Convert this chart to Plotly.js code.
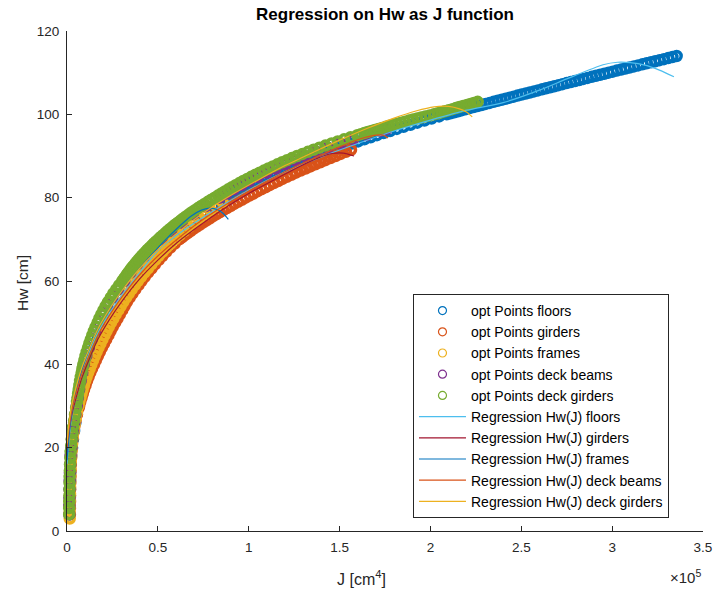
<!DOCTYPE html>
<html>
<head>
<meta charset="utf-8">
<script src="https://cdn.plot.ly/plotly-3.0.1.min.js"></script>
<style>html,body{margin:0;padding:0;background:#fff;}#chart{width:716px;height:591px;}</style>
</head>
<body>
<div id="chart"></div>
<script>
// ---------- optimisation points (J in cm^4, Hw in cm) ----------
const floorsHw = [4,6,8,10,12,14,16,18,20,22,24,26,28,30,32,34,36,38,40,42,44,46,48,50,52,54,56,58,60,62,64,66,68,70,72,74,76,78,
80,80.5,81,81.5,82,82.5,83,83.5,84,84.5,85,85.5,86,86.5,87,87.5,88,88.5,89,89.5,90,90.5,91,91.5,92,92.5,93,93.5,94,94.5,95,95.5,96,96.5,97,97.5,98,98.5,99,99.5,
100,100.25,100.5,100.75,101,101.25,101.5,101.75,102,102.25,102.5,102.75,103,103.25,103.5,103.75,104,104.25,104.5,104.75,105,105.25,105.5,105.75,106,106.25,106.5,106.75,107,107.25,107.5,107.75,108,108.25,108.5,108.75,109,109.25,109.5,109.75,110,110.25,110.5,110.75,111,111.25,111.5,111.75,112,112.25,112.5,112.75,113,113.25,113.5,113.75,114];
const floorsJ = [1500,1500,1600,1600,1700,1800,2000,2300,2800,3300,3900,4600,5300,6100,7000,8000,9200,10400,11800,13300,15000,16900,19000,21300,23800,26500,29500,32700,36200,39900,44000,48300,53000,57800,63000,68500,74500,80500,
86500,88600,90800,93000,95200,97500,99800,102200,104600,107100,109600,112200,114800,117500,120200,123000,125800,128700,131600,134600,137600,140700,143800,147000,150200,153500,156800,160200,163600,167100,170600,174200,177800,181500,185200,189000,192800,196700,200600,204800,
209000,211100,213200,215300,217400,219500,221600,223800,226000,228200,230400,232600,234800,237000,239200,241400,243600,245800,248000,250200,252500,254700,257000,259200,261500,263700,266000,268200,270500,272700,275000,277300,279600,281900,284200,286500,288800,291100,293400,295700,298000,300300,302600,305000,307300,309600,312000,314300,316700,319000,321400,323700,326100,328500,330900,333200,335500];

const girdersHw = [4,5.5,7,8.5,10,11.5,13,14.5,16,17.5,19,20.5,22,23.5,25,26.5,28,29.5,
30,31,32,33,34,35,36,37,38,39,40,41,42,43,44,45,46,47,48,49,50,51,52,53,54,55,56,57,58,59,60,61,62,63,64,65,66,67,68,69,70,
70.5,71,71.5,72,72.5,73,73.5,74,74.5,75,75.5,76,76.5,77,77.5,78,78.5,79,79.5,80,80.5,81,81.5,82,82.5,83,83.5,84,84.5,85,85.5,86,86.5,87,87.5,88,88.5,89,89.5,90,90.5,91,91.5];
const girdersJ = [1600,1600,1650,1700,1750,1800,1900,2000,2100,2250,2400,2650,3000,3450,4000,4700,5500,6400,
6700,7300,8000,8700,9400,10200,11000,11900,12800,13800,14900,15900,17000,18100,19200,20400,21600,22800,24000,25200,26500,27800,29100,30400,31700,33000,34500,36000,37600,39300,41000,42800,44600,46500,48400,50400,52500,54600,56900,59300,61800,
63300,64800,66400,68000,69600,71300,73000,74800,76600,78400,80200,82100,84000,86000,88000,90000,92000,94100,96200,98300,100400,102500,104700,106900,109200,111500,113800,116200,118600,121000,123500,126000,128600,131300,134000,136700,139400,142200,145000,147800,150600,153500,156300];

const framesHw = [3,4.5,6,7.5,9,10.5,12,13.5,15,16.5,18,19.5,21,22.5,24,25.5,27,28.5,
30,31,32,33,34,35,36,37,38,39,40,41,42,43,44,45,46,47,48,49,50,51,52,53,54,55,56,57,58,59,60,61,62,63,64,65,66,67,68,69,70,71,72,73,74,75,76,77,78,79];
const framesJ = [1500,1500,1550,1600,1650,1700,1750,1850,1950,2100,2300,2550,2850,3200,3650,4200,4800,5500,
6300,6800,7400,8000,8600,9300,10000,10800,11600,12500,13400,14300,15300,16300,17300,18400,19500,20600,21800,23000,24200,25500,26800,28200,29600,31000,32500,34000,35600,37300,39000,40800,42600,44500,46400,48400,50400,52500,54700,57000,59400,61900,64500,67200,70000,72900,75900,79000,82200,85500];

const deckBeamsHw = [4,6,8,10,12,14,16,18,20,22,24,26,28,30,32,34,36,38,40,42,44,46,48,50,52,54,56,58,60,62,64,66,68,70,72,74,76,78,
80,81,82,83,84,85,86,87,88,89,90,91,92,93,94,95,96,96.5];
const deckBeamsJ = [1300,1300,1350,1400,1500,1600,1750,1950,2350,2750,3250,3900,4600,5400,6000,6700,7500,8400,9300,10600,12000,13600,15400,17400,19600,22100,24900,28000,31500,34800,38500,42600,47000,52000,57300,63100,69300,76300,
84000,87800,91800,96000,100300,105000,109800,114800,120000,125400,131000,137200,143600,150500,157500,164800,172000,176000];

const deckGirdersHw = [4,5.5,7,8.5,10,11.5,13,14.5,16,17.5,19,20.5,22,23.5,25,26.5,28,29.5,
31,32,33,34,35,36,37,38,39,40,41,42,43,44,45,46,47,48,49,50,51,52,53,54,55,56,57,58,59,
60,60.5,61,61.5,62,62.5,63,63.5,64,64.5,65,65.5,66,66.5,67,67.5,68,68.5,69,69.5,
70,70.5,71,71.5,72,72.5,73,73.5,74,74.5,75,75.5,76,76.5,77,77.5,78,78.5,79,79.5,
80,80.5,81,81.5,82,82.5,83,83.5,84,84.5,85,85.5,86,86.5,87,87.5,88,88.5,89,89.5,
90,90.5,91,91.5,92,92.5,93,93.5,94,94.5,
95,95.25,95.5,95.75,96,96.25,96.5,96.75,97,97.25,97.5,97.75,98,98.25,98.5,98.75,99,99.25,99.5,99.75,
100,100.25,100.5,100.75,101,101.25,101.5,101.75,102,102.25,102.5,102.75,103];
const deckGirdersJ = [1200,1200,1250,1300,1350,1400,1450,1550,1650,1800,2000,2300,2600,3000,3400,3900,4400,5000,
5500,5800,6100,6450,6800,7200,7600,8050,8500,9000,9600,10200,10850,11550,12300,13100,13950,14850,15800,16800,17800,18900,20100,21350,22650,24050,25500,27100,28750,
30500,31300,32100,32900,33700,34550,35400,36300,37250,38200,39150,40150,41150,42200,43250,44350,45500,46650,47800,49000,
50300,51500,52800,54100,55400,56700,58100,59500,61000,62500,64000,65500,67100,68700,70400,72100,73900,75700,77500,79400,
81300,83100,85000,86900,88800,90800,92800,94900,97000,99200,101400,103700,106000,108400,110800,113300,115800,118400,121100,123800,
126600,129600,132600,135700,138900,142200,145600,149000,152500,156100,
159800,161700,163600,165500,167500,169400,171400,173400,175500,177500,179600,181700,183900,186000,188200,190400,192700,194900,197200,199600,
202000,204100,206000,207900,210000,212100,214000,215900,218000,220100,222000,223900,226000];

// ---------- regression curves Hw(J) ----------
const regFloorsJ  = [0,1000,2500,5000,8000,12000,17000,23000,30000,40000,50000,62000,75000,90000,105000,120000,140000,160000,180000,200000,220000,240000,260000,275000,295000,303000,310000,318000,326000,334000];
const regFloorsHw = [16,21.5,27,32.5,37.5,42.5,47.5,52,56.5,62,67.3,71.5,75.3,79.3,83,86.2,89.8,93,96,98.6,101,102.8,105.8,108.5,111.9,112.5,112.4,111.8,110.6,109];

const regGirdersJ  = [0,1000,2500,5000,8000,12000,17000,23000,30000,40000,50000,60000,72000,85000,100000,115000,128000,138000,146000,152000,158000];
const regGirdersHw = [18.5,23,27.5,32,36.5,41,46,50.5,55,60.5,65,69,73,77,81,84.5,87.5,89.5,90.6,90.7,90];

const regFramesJ  = [0,1000,2500,5000,8000,12000,17000,23000,30000,38000,46000,54000,62000,68000,74000,79000,83000,86000,88800];
const regFramesHw = [17,22.5,28,33.5,38.5,43.5,48.5,53,57.5,62,66,69.8,73.2,75.5,77,77.5,77.1,76.2,74.8];

const regDeckBeamsJ  = [0,1000,2500,5000,8000,12000,17000,23000,30000,40000,50000,62000,75000,90000,105000,120000,135000,150000,162000,170000,174000,176700];
const regDeckBeamsHw = [20,24,28.5,33,37.5,42,47,51.5,56,61.5,66,70.5,74.8,79,82.8,86.2,89.3,92.2,94.2,95,95,94.3];

const regDeckGirdersJ  = [0,1000,2500,5000,8000,12000,17000,23000,30000,40000,50000,62000,75000,90000,105000,120000,135000,150000,165000,180000,192000,202000,210000,216000,220000,223000];
const regDeckGirdersHw = [21,25.5,30,34.5,39,43.5,48.5,53,57.5,63,67.5,72,76.3,80.5,84.2,87.7,90.8,93.8,96.6,99.1,100.8,101.8,101.9,101.3,100.5,99.4];

// ---------- axis ticks ----------
const xTickVals = [0,50000,100000,150000,200000,250000,300000,350000];
const xTickText = ['0','0.5','1','1.5','2','2.5','3','3.5'];
const yTickVals = [0,20,40,60,80,100,120];

const FONT = 'Liberation Sans, Arial, Helvetica, sans-serif';
const AX = '#262626';

// dense open circles: a heavy ring for the plotted band, plus a thin ring (same points) that supplies the legend symbol
function pts(name, x, y, color) {
  return [
    {type:'scatter', mode:'markers', name:name, x:x, y:y, cliponaxis:false, showlegend:false, legendgroup:name,
     marker:{symbol:'circle-open', size:9, color:color, line:{width:3.5, color:color}}},
    {type:'scatter', mode:'markers', name:name, x:x, y:y, cliponaxis:false, showlegend:true, legendgroup:name,
     marker:{symbol:'circle-open', size:8, color:color, line:{width:1.2, color:color}}}
  ];
}
function reg(name, x, y, color) {
  return {type:'scatter', mode:'lines', name:name, x:x, y:y, cliponaxis:false,
    line:{color:color, width:1.2, shape:'spline', smoothing:0.6}};
}

const data = [].concat(
  pts('opt Points floors', floorsJ, floorsHw, '#0072BD'),
  pts('opt Points girders', girdersJ, girdersHw, '#D95319'),
  pts('opt Points frames', framesJ, framesHw, '#EDB120'),
  pts('opt Points deck beams', deckBeamsJ, deckBeamsHw, '#7E2F8E'),
  pts('opt Points deck girders', deckGirdersJ, deckGirdersHw, '#77AC30'),
  [
    reg('Regression Hw(J) floors', regFloorsJ, regFloorsHw, '#4DBEEE'),
    reg('Regression Hw(J) girders', regGirdersJ, regGirdersHw, '#A2142F'),
    reg('Regression Hw(J) frames', regFramesJ, regFramesHw, '#0072BD'),
    reg('Regression Hw(J) deck beams', regDeckBeamsJ, regDeckBeamsHw, '#D95319'),
    reg('Regression Hw(J) deck girders', regDeckGirdersJ, regDeckGirdersHw, '#EDB120')
  ]
);

const layout = {
  width:716, height:591,
  margin:{l:67, r:13, t:31, b:60},
  paper_bgcolor:'#ffffff', plot_bgcolor:'#ffffff',
  font:{family:FONT, color:AX, size:13},
  title:{text:'<b>Regression on Hw as J function</b>', x:0.5, xref:'paper', xanchor:'center',
         y:0.976, yref:'container', yanchor:'middle', font:{family:FONT, size:17, color:'#000000'}},
  xaxis:{range:[0,350000], tickvals:xTickVals, ticktext:xTickText, ticks:'inside', ticklen:5,
         tickcolor:AX, showline:true, linecolor:AX, linewidth:1, showgrid:false, zeroline:false,
         tickfont:{family:FONT, size:13.5, color:AX}, ticklabelstandoff:4},
  yaxis:{range:[0,120], tickvals:yTickVals, ticks:'inside', ticklen:5, tickcolor:AX,
         showline:true, linecolor:AX, linewidth:1, showgrid:false, zeroline:false,
         tickfont:{family:FONT, size:13.5, color:AX}, ticklabelstandoff:4},
  showlegend:true,
  legend:{x:0.544, xanchor:'left', y:0.474, yanchor:'top', bgcolor:'#ffffff',
          bordercolor:AX, borderwidth:1, font:{family:FONT, size:14, color:'#000000'},
          itemwidth:47, tracegroupgap:0},
  annotations:[
    {text:'J [cm<sup>4</sup>]', xref:'paper', yref:'paper', x:0.4638, y:-0.094,
     xanchor:'center', yanchor:'middle', showarrow:false, font:{family:FONT, size:16, color:AX}},
    {text:'Hw [cm]', xref:'paper', yref:'paper', x:-0.0708, y:0.496, textangle:-90,
     xanchor:'center', yanchor:'middle', showarrow:false, font:{family:FONT, size:15.5, color:AX}},
    {text:'\u00d710<sup>5</sup>', xref:'paper', yref:'paper', x:0.972, y:-0.09,
     xanchor:'center', yanchor:'middle', showarrow:false, font:{family:FONT, size:15, color:AX}}
  ]
};

Plotly.newPlot('chart', data, layout, {displayModeBar:false, staticPlot:true});
</script>
</body>
</html>
